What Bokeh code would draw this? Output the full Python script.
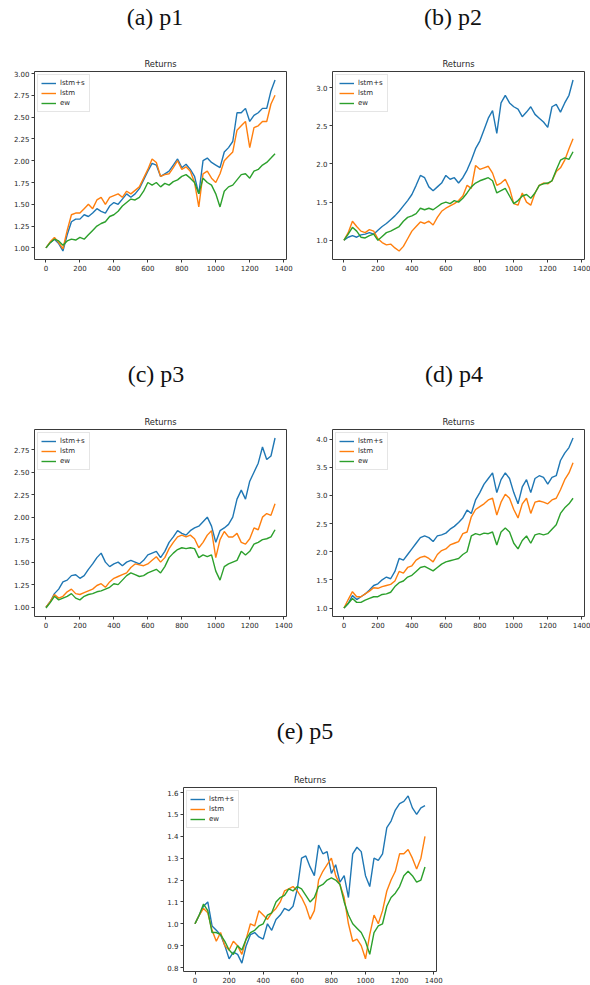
from bokeh.plotting import figure
from bokeh.models import Range1d, FixedTicker, PrintfTickFormatter, Legend, LegendItem, Div
from bokeh.layouts import column, row
from bokeh.embed import file_html
from bokeh.resources import INLINE

# ---------------- data ----------------
X = [0, 25, 50, 75, 100, 125, 150, 175, 200, 225, 250, 275, 300, 325, 350, 375, 400, 425, 450, 475,
     500, 525, 550, 575, 600, 625, 650, 675, 700, 725, 750, 775, 800, 825, 850, 875, 900, 925, 950, 975,
     1000, 1025, 1050, 1075, 1100, 1125, 1150, 1175, 1200, 1225, 1250, 1275, 1300, 1325, 1349]

SERIES_LABELS = ["lstm+s", "lstm", "ew"]
CAPTIONS = ["(a) p1", "(b) p2", "(c) p3", "(d) p4", "(e) p5"]
X_TICKS = [0, 200, 400, 600, 800, 1000, 1200, 1400]

p1_lstm_s = [1.00, 1.06, 1.10, 1.05, 0.965, 1.15, 1.30, 1.33, 1.33, 1.38, 1.36, 1.40, 1.45, 1.42, 1.40, 1.48, 1.52, 1.50, 1.56, 1.62,
             1.58, 1.62, 1.68, 1.78, 1.88, 1.97, 1.95, 1.82, 1.85, 1.88, 1.95, 2.02, 1.92, 1.96, 1.90, 1.82, 1.62, 2.00, 2.03, 1.98,
             1.95, 1.92, 2.10, 2.15, 2.22, 2.55, 2.55, 2.60, 2.45, 2.52, 2.55, 2.60, 2.60, 2.80, 2.925]
p1_lstm = [1.00, 1.07, 1.12, 1.06, 0.99, 1.20, 1.38, 1.40, 1.40, 1.45, 1.50, 1.45, 1.55, 1.58, 1.50, 1.58, 1.60, 1.62, 1.58, 1.65,
           1.62, 1.66, 1.70, 1.80, 1.90, 2.02, 1.98, 1.82, 1.84, 1.85, 1.92, 2.00, 1.90, 1.93, 1.88, 1.75, 1.47, 1.85, 1.88, 1.80,
           1.75, 1.85, 2.00, 2.05, 2.10, 2.35, 2.40, 2.45, 2.15, 2.38, 2.40, 2.45, 2.45, 2.65, 2.75]
p1_ew = [1.00, 1.06, 1.10, 1.08, 1.03, 1.08, 1.10, 1.09, 1.12, 1.10, 1.15, 1.20, 1.25, 1.28, 1.30, 1.36, 1.38, 1.42, 1.48, 1.52,
         1.56, 1.55, 1.58, 1.65, 1.75, 1.72, 1.75, 1.70, 1.74, 1.72, 1.76, 1.78, 1.82, 1.84, 1.80, 1.75, 1.62, 1.80, 1.75, 1.72,
         1.62, 1.47, 1.65, 1.70, 1.72, 1.78, 1.84, 1.85, 1.80, 1.88, 1.90, 1.95, 1.98, 2.03, 2.08]

p2_lstm_s = [1.00, 1.04, 1.06, 1.04, 1.07, 1.08, 1.10, 1.08, 1.13, 1.18, 1.22, 1.27, 1.32, 1.38, 1.45, 1.52, 1.60, 1.72, 1.85, 1.82,
             1.70, 1.65, 1.70, 1.75, 1.85, 1.80, 1.82, 1.75, 1.82, 1.92, 2.05, 2.20, 2.30, 2.45, 2.60, 2.70, 2.40, 2.80, 2.90, 2.80,
             2.75, 2.72, 2.62, 2.68, 2.75, 2.65, 2.60, 2.55, 2.48, 2.75, 2.78, 2.68, 2.80, 2.90, 3.10]
p2_lstm = [1.00, 1.10, 1.25, 1.18, 1.12, 1.10, 1.14, 1.12, 1.02, 0.97, 0.94, 0.95, 0.90, 0.86, 0.92, 1.02, 1.12, 1.18, 1.24, 1.22,
           1.25, 1.20, 1.30, 1.38, 1.42, 1.45, 1.48, 1.52, 1.58, 1.72, 1.68, 1.98, 1.93, 1.95, 1.97, 1.88, 1.72, 1.75, 1.80, 1.68,
           1.48, 1.46, 1.62, 1.50, 1.46, 1.62, 1.72, 1.75, 1.74, 1.78, 1.90, 1.95, 2.05, 2.20, 2.33]
p2_ew = [1.00, 1.08, 1.17, 1.12, 1.04, 1.03, 1.06, 1.08, 1.00, 1.05, 1.10, 1.12, 1.15, 1.18, 1.25, 1.30, 1.32, 1.35, 1.42, 1.40,
         1.42, 1.40, 1.44, 1.48, 1.50, 1.48, 1.52, 1.50, 1.55, 1.62, 1.70, 1.75, 1.78, 1.80, 1.82, 1.78, 1.62, 1.65, 1.68, 1.58,
         1.48, 1.52, 1.58, 1.60, 1.55, 1.62, 1.72, 1.74, 1.75, 1.78, 1.92, 2.05, 2.08, 2.06, 2.16]

p3_lstm_s = [1.00, 1.06, 1.15, 1.20, 1.28, 1.30, 1.35, 1.36, 1.32, 1.35, 1.42, 1.48, 1.55, 1.60, 1.50, 1.45, 1.48, 1.50, 1.46, 1.50,
             1.52, 1.50, 1.48, 1.52, 1.58, 1.60, 1.62, 1.55, 1.62, 1.72, 1.78, 1.85, 1.82, 1.80, 1.85, 1.88, 1.90, 1.95, 2.00, 1.90,
             1.72, 1.85, 1.88, 1.92, 2.00, 2.20, 2.30, 2.20, 2.40, 2.50, 2.60, 2.78, 2.64, 2.68, 2.88]
p3_lstm = [1.00, 1.06, 1.14, 1.10, 1.12, 1.17, 1.20, 1.15, 1.14, 1.16, 1.18, 1.20, 1.24, 1.26, 1.22, 1.28, 1.32, 1.34, 1.36, 1.38,
           1.44, 1.48, 1.47, 1.46, 1.48, 1.52, 1.56, 1.50, 1.55, 1.65, 1.72, 1.78, 1.80, 1.78, 1.80, 1.76, 1.66, 1.72, 1.80, 1.85,
           1.55, 1.75, 1.84, 1.78, 1.78, 1.82, 1.72, 1.70, 1.76, 1.88, 1.86, 2.00, 2.04, 2.02, 2.15]
p3_ew = [0.99, 1.05, 1.12, 1.08, 1.10, 1.12, 1.15, 1.10, 1.08, 1.12, 1.14, 1.15, 1.17, 1.18, 1.20, 1.22, 1.26, 1.25, 1.30, 1.35,
         1.38, 1.36, 1.34, 1.35, 1.38, 1.40, 1.42, 1.38, 1.45, 1.55, 1.60, 1.64, 1.66, 1.65, 1.66, 1.65, 1.55, 1.58, 1.56, 1.58,
         1.40, 1.30, 1.45, 1.48, 1.50, 1.52, 1.62, 1.58, 1.62, 1.70, 1.72, 1.75, 1.76, 1.78, 1.86]

p4_lstm_s = [1.00, 1.08, 1.22, 1.15, 1.20, 1.25, 1.32, 1.40, 1.43, 1.50, 1.55, 1.52, 1.65, 1.88, 1.85, 1.95, 2.05, 2.15, 2.25, 2.28,
             2.25, 2.18, 2.28, 2.30, 2.33, 2.40, 2.45, 2.52, 2.60, 2.74, 2.68, 2.92, 3.05, 3.20, 3.30, 3.40, 3.05, 3.28, 3.40, 3.30,
             3.05, 2.85, 3.15, 3.28, 3.05, 3.30, 3.35, 3.32, 3.20, 3.32, 3.35, 3.62, 3.75, 3.85, 4.02]
p4_lstm = [1.00, 1.15, 1.29, 1.20, 1.20, 1.25, 1.30, 1.36, 1.35, 1.38, 1.40, 1.42, 1.48, 1.65, 1.62, 1.72, 1.75, 1.85, 1.90, 1.92,
           1.88, 1.82, 1.95, 2.02, 2.05, 2.12, 2.15, 2.18, 2.32, 2.35, 2.62, 2.75, 2.80, 2.85, 2.92, 2.95, 2.65, 2.88, 3.02, 2.95,
           2.75, 2.60, 2.85, 2.95, 2.68, 2.88, 2.90, 2.88, 2.85, 2.92, 2.95, 3.10, 3.28, 3.40, 3.58]
p4_ew = [1.00, 1.08, 1.17, 1.10, 1.10, 1.14, 1.17, 1.20, 1.20, 1.24, 1.25, 1.28, 1.38, 1.45, 1.48, 1.55, 1.58, 1.65, 1.72, 1.74,
         1.70, 1.66, 1.72, 1.78, 1.82, 1.84, 1.86, 1.88, 1.95, 2.00, 2.28, 2.32, 2.30, 2.33, 2.32, 2.35, 2.12, 2.35, 2.42, 2.35,
         2.15, 2.05, 2.20, 2.28, 2.15, 2.30, 2.32, 2.30, 2.32, 2.40, 2.48, 2.68, 2.78, 2.85, 2.95]

p5_lstm_s = [1.00, 1.04, 1.08, 1.10, 0.99, 0.97, 0.95, 0.90, 0.84, 0.87, 0.86, 0.82, 0.90, 0.95, 0.96, 0.94, 0.93, 1.00, 0.97, 1.02,
             1.04, 1.07, 1.06, 1.08, 1.16, 1.30, 1.31, 1.26, 1.22, 1.36, 1.32, 1.33, 1.23, 1.27, 1.19, 1.22, 1.12, 1.32, 1.35, 1.33,
             1.22, 1.17, 1.30, 1.29, 1.32, 1.44, 1.47, 1.52, 1.55, 1.56, 1.585, 1.53, 1.50, 1.53, 1.54]
p5_lstm = [1.00, 1.04, 1.07, 1.05, 0.97, 0.92, 0.96, 0.90, 0.88, 0.92, 0.90, 0.86, 0.93, 1.00, 0.99, 1.06, 1.04, 1.02, 1.05, 1.07,
           1.10, 1.15, 1.16, 1.17, 1.15, 1.12, 1.08, 1.02, 1.06, 1.20, 1.24, 1.27, 1.30, 1.22, 1.18, 1.12, 1.00, 0.92, 0.93, 0.90,
           0.84, 0.95, 1.04, 1.00, 1.06, 1.15, 1.20, 1.24, 1.32, 1.32, 1.34, 1.30, 1.25, 1.30, 1.40]
p5_ew = [1.00, 1.04, 1.09, 1.06, 0.96, 0.96, 0.95, 0.92, 0.88, 0.86, 0.90, 0.88, 0.93, 0.96, 0.97, 0.99, 1.00, 1.04, 1.05, 1.10,
         1.12, 1.13, 1.16, 1.15, 1.17, 1.16, 1.13, 1.10, 1.12, 1.17, 1.18, 1.20, 1.21, 1.20, 1.18, 1.10, 1.04, 1.00, 0.98, 0.96,
         0.92, 0.86, 0.96, 0.99, 1.00, 1.08, 1.12, 1.14, 1.17, 1.22, 1.24, 1.22, 1.19, 1.20, 1.26]

p1_yticks = [1.00, 1.25, 1.50, 1.75, 2.00, 2.25, 2.50, 2.75, 3.00]
p2_yticks = [1.0, 1.5, 2.0, 2.5, 3.0]
p3_yticks = [1.00, 1.25, 1.50, 1.75, 2.00, 2.25, 2.50, 2.75]
p4_yticks = [1.0, 1.5, 2.0, 2.5, 3.0, 3.5, 4.0]
p5_yticks = [0.8, 0.9, 1.0, 1.1, 1.2, 1.3, 1.4, 1.5, 1.6]

# ---------------- styling ----------------
COLORS = ["#1f77b4", "#ff7f0e", "#2ca02c"]
SANS = "DejaVu Sans"
TEXT_COLOR = "#262626"
LEGEND_KW = dict(location="top_left", padding=3, spacing=0, label_height=10, glyph_height=10,
                 glyph_width=15, label_standoff=4, label_width=26,
                 label_text_font=SANS, label_text_font_size="7px")


def make_panel(ys, yticks, yfmt, width, height, left, right, top, bottom):
    xs = X
    xspan = max(xs) - min(xs)
    xr = Range1d(min(xs) - 0.05 * xspan, max(xs) + 0.05 * xspan)
    ally = [v for s in ys for v in s]
    lo, hi = min(ally), max(ally)
    yr = Range1d(lo - 0.05 * (hi - lo), hi + 0.05 * (hi - lo))

    p = figure(width=width, height=height, x_range=xr, y_range=yr,
               output_backend="svg", toolbar_location=None, title="Returns",
               min_border_left=left, min_border_right=right,
               min_border_top=top, min_border_bottom=bottom,
               background_fill_color="white", border_fill_color="white")
    p.title.align = "center"
    p.title.text_font = SANS
    p.title.text_font_size = "8.4px"
    p.title.text_font_style = "normal"
    p.title.text_color = TEXT_COLOR
    p.title.standoff = 5

    p.xgrid.visible = False
    p.ygrid.visible = False
    p.outline_line_color = "#3a3a3a"
    p.outline_line_width = 1
    p.outline_line_alpha = 1

    p.xaxis.ticker = FixedTicker(ticks=X_TICKS)
    p.xaxis.formatter = PrintfTickFormatter(format="%d")
    p.yaxis.ticker = FixedTicker(ticks=yticks)
    p.yaxis.formatter = PrintfTickFormatter(format=yfmt)
    for ax in (p.xaxis[0], p.yaxis[0]):
        ax.axis_line_color = None
        ax.major_tick_out = 3
        ax.major_tick_in = 0
        ax.major_tick_line_color = "#3a3a3a"
        ax.major_tick_line_width = 1
        ax.minor_tick_line_color = None
        ax.major_label_text_font = SANS
        ax.major_label_text_font_size = "7px"
        ax.major_label_text_color = TEXT_COLOR
        ax.major_label_standoff = 2

    # legend shadow (drawn first, under the legend); its items carry no text
    dummy = p.line(x=[], y=[], line_alpha=0)
    shadow = Legend(items=[LegendItem(label="", renderers=[dummy]) for _ in SERIES_LABELS],
                    margin=5, background_fill_color="#555555", background_fill_alpha=0.45,
                    border_line_color=None, **LEGEND_KW)
    p.add_layout(shadow)

    rs = []
    for y, c in zip(ys, COLORS):
        rs.append(p.line(xs, y, line_color=c, line_width=1.4))

    legend = Legend(items=[LegendItem(label=l, renderers=[r]) for l, r in zip(SERIES_LABELS, rs)],
                    margin=3, label_text_color=TEXT_COLOR,
                    background_fill_color="white", background_fill_alpha=1.0,
                    border_line_color="#cccccc", border_line_width=1, **LEGEND_KW)
    p.add_layout(legend)
    return p


def caption_div(items, height, top, width=590):
    spans = ""
    for text, cx in items:
        spans += (f'<span style="position:absolute;left:{cx - 60}px;top:{top}px;width:120px;'
                  f'text-align:center;white-space:nowrap;">{text}</span>')
    html = (f'<div style="position:relative;width:{width}px;height:{height}px;'
            f"font-family:'Liberation Serif',serif;font-size:24px;line-height:24px;color:#111;\">"
            f'{spans}</div>')
    return Div(text=html, width=width, height=height, margin=0)


pa = make_panel([p1_lstm_s, p1_lstm, p1_ew], p1_yticks, "%.2f", 300, 307, 34, 14, 18, 101)
pb = make_panel([p2_lstm_s, p2_lstm, p2_ew], p2_yticks, "%.1f", 290, 307, 32, 6, 18, 101)
pc = make_panel([p3_lstm_s, p3_lstm, p3_ew], p3_yticks, "%.2f", 300, 306, 34, 14, 18, 101)
pd_ = make_panel([p4_lstm_s, p4_lstm, p4_ew], p4_yticks, "%.1f", 290, 306, 32, 6, 18, 101)
pe = make_panel([p5_lstm_s, p5_lstm, p5_ew], p5_yticks, "%.1f", 590, 216, 183, 154, 18, 12)

cap1 = caption_div([(CAPTIONS[0], 155), (CAPTIONS[1], 453)], 53, 5)
cap2 = caption_div([(CAPTIONS[2], 156), (CAPTIONS[3], 454)], 51, 2)
cap3 = caption_div([(CAPTIONS[4], 305)], 52, 2)

layout = column(cap1, row(pa, pb), cap2, row(pc, pd_), cap3, pe)

open("out.html", "w").write(file_html(layout, INLINE))
